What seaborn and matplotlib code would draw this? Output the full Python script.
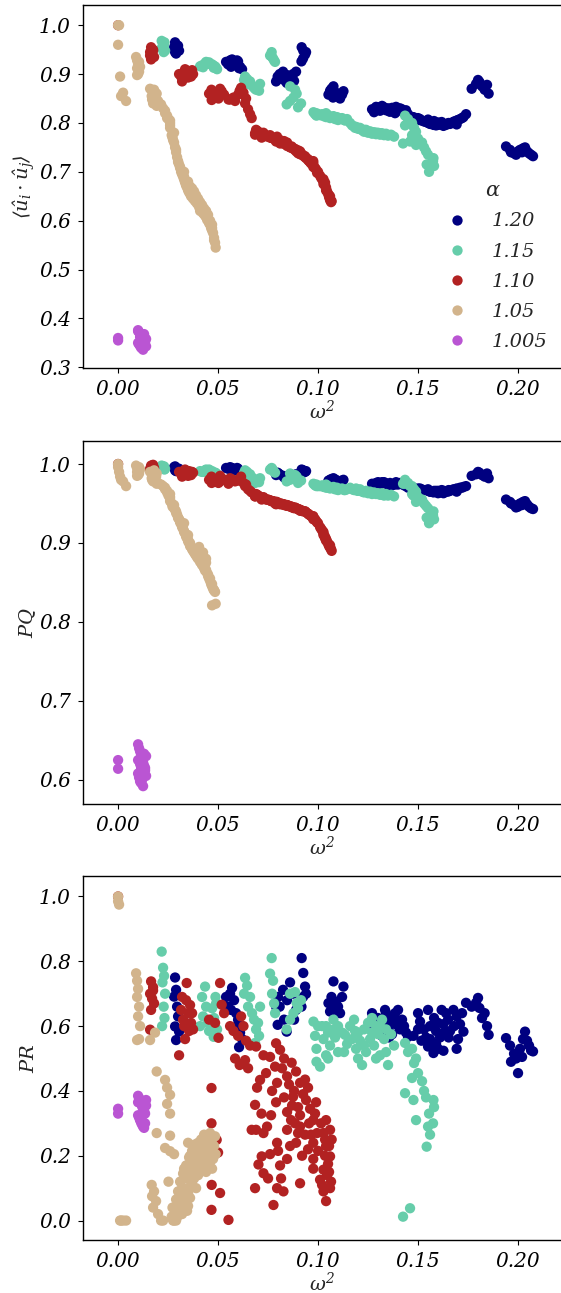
import matplotlib
matplotlib.use("Agg")
import matplotlib.pyplot as plt
import pandas as pd
import seaborn as sns

# ---------------------------------------------------------------------------
# Data: for every alpha, omega^2 of each sample and the three diagnostics
# (mean alignment <u_i . u_j>, PQ and PR) measured on that sample.
# ---------------------------------------------------------------------------
alpha_labels = ["1.20", "1.15", "1.10", "1.05", "1.005"]
alpha_colors = ["#000080", "#66cdaa", "#b22222", "#d2b48c", "#ba55d3"]

# alpha = 1.20
omega2_120 = [
    0.0285, 0.0290, 0.0280, 0.0295, 0.0300, 0.0285, 0.0305, 0.0290,
    0.0540, 0.0550, 0.0560, 0.0570, 0.0580, 0.0590, 0.0600, 0.0610, 0.0620, 0.0605, 0.0565, 0.0595,
    0.0800, 0.0790, 0.0798, 0.0808, 0.0825, 0.0845, 0.0830, 0.0843, 0.0860, 0.0875, 0.0890, 0.0880,
    0.0918, 0.0926, 0.0935, 0.0925, 0.0917, 0.0940,
    0.1077, 0.1127, 0.1067, 0.1052, 0.1090, 0.1100, 0.1110, 0.1075, 0.1060, 0.1120,
    0.1270, 0.1280, 0.1300, 0.1310, 0.1330, 0.1340, 0.1350, 0.1360, 0.1370, 0.1380,
    0.1390, 0.1400, 0.1410, 0.1420, 0.1430, 0.1440, 0.1450, 0.1320, 0.1290, 0.1385,
    0.1335, 0.1355, 0.1405, 0.1300,
    0.1477, 0.1510, 0.1517, 0.1540, 0.1550, 0.1560, 0.1577, 0.1590, 0.1590, 0.1610, 0.1618, 0.1627,
    0.1627, 0.1640, 0.1653, 0.1660, 0.1677, 0.1693, 0.1693, 0.1710, 0.1727, 0.1740, 0.1500, 0.1580,
    0.1500, 0.1530, 0.1560, 0.1600, 0.1630, 0.1650, 0.1680, 0.1700, 0.1720, 0.1550, 0.1600,
    0.1768, 0.1790, 0.1800, 0.1807, 0.1820, 0.1833, 0.1853, 0.1845,
    0.1940, 0.1960, 0.1965, 0.1980, 0.2000, 0.2010, 0.2025, 0.2035, 0.2045, 0.2055, 0.2065, 0.2075, 0.1990, 0.2020,
]
dot_120 = [
    0.965, 0.960, 0.955, 0.950, 0.958, 0.945, 0.948, 0.942,
    0.925, 0.920, 0.928, 0.930, 0.922, 0.918, 0.926, 0.915, 0.910, 0.912, 0.915, 0.928,
    0.890, 0.885, 0.895, 0.900, 0.905, 0.898, 0.888, 0.882, 0.893, 0.900, 0.905, 0.886,
    0.955, 0.948, 0.940, 0.932, 0.926, 0.945,
    0.875, 0.865, 0.870, 0.858, 0.862, 0.855, 0.850, 0.852, 0.866, 0.858,
    0.828, 0.822, 0.830, 0.825, 0.832, 0.826, 0.830, 0.823, 0.831, 0.827,
    0.833, 0.825, 0.830, 0.828, 0.822, 0.826, 0.818, 0.835, 0.833, 0.820,
    0.829, 0.824, 0.827, 0.832,
    0.812, 0.808, 0.805, 0.802, 0.800, 0.798, 0.796, 0.800, 0.795, 0.797, 0.802, 0.798,
    0.794, 0.796, 0.800, 0.798, 0.802, 0.805, 0.797, 0.808, 0.812, 0.818, 0.810, 0.804,
    0.806, 0.803, 0.799, 0.801, 0.797, 0.799, 0.803, 0.806, 0.810, 0.807, 0.796,
    0.870, 0.880, 0.888, 0.884, 0.875, 0.868, 0.860, 0.878,
    0.752, 0.745, 0.740, 0.738, 0.742, 0.745, 0.748, 0.750, 0.742, 0.738, 0.735, 0.732, 0.735, 0.740,
]
pq_120 = [
    0.997, 0.995, 0.996, 0.994, 0.993, 0.992, 0.994, 0.991,
    0.995, 0.994, 0.996, 0.995, 0.993, 0.992, 0.994, 0.991, 0.990, 0.992, 0.993, 0.995,
    0.988, 0.986, 0.989, 0.987, 0.985, 0.984, 0.983, 0.982, 0.986, 0.985, 0.987, 0.984,
    0.993, 0.992, 0.990, 0.989, 0.988, 0.991,
    0.982, 0.980, 0.981, 0.979, 0.980, 0.978, 0.977, 0.978, 0.980, 0.979,
    0.975, 0.973, 0.976, 0.974, 0.977, 0.975, 0.974, 0.976, 0.973, 0.975,
    0.977, 0.974, 0.976, 0.975, 0.973, 0.972, 0.970, 0.977, 0.976, 0.974,
    0.976, 0.973, 0.975, 0.977,
    0.970, 0.969, 0.968, 0.967, 0.966, 0.965, 0.964, 0.966, 0.965, 0.964, 0.967, 0.966,
    0.963, 0.965, 0.967, 0.966, 0.968, 0.969, 0.965, 0.970, 0.971, 0.972, 0.968, 0.966,
    0.969, 0.967, 0.965, 0.966, 0.964, 0.965, 0.967, 0.968, 0.970, 0.968, 0.963,
    0.985, 0.987, 0.990, 0.989, 0.986, 0.984, 0.982, 0.988,
    0.955, 0.952, 0.950, 0.948, 0.946, 0.950, 0.952, 0.953, 0.949, 0.946, 0.944, 0.943, 0.945, 0.948,
]
pr_120 = [
    0.750, 0.712, 0.691, 0.660, 0.630, 0.599, 0.583, 0.557,
    0.690, 0.660, 0.700, 0.718, 0.680, 0.640, 0.620, 0.580, 0.560, 0.535, 0.650, 0.600,
    0.690, 0.660, 0.604, 0.660, 0.712, 0.680, 0.620, 0.583, 0.735, 0.700, 0.650, 0.620,
    0.810, 0.764, 0.722, 0.690, 0.660, 0.700,
    0.738, 0.722, 0.690, 0.671, 0.675, 0.660, 0.640, 0.650, 0.645, 0.690,
    0.640, 0.600, 0.625, 0.585, 0.610, 0.640, 0.595, 0.620, 0.575, 0.630,
    0.605, 0.650, 0.590, 0.620, 0.600, 0.580, 0.567, 0.570, 0.615, 0.640,
    0.650, 0.565, 0.610, 0.590,
    0.570, 0.614, 0.555, 0.565, 0.537, 0.600, 0.517, 0.585, 0.545, 0.565, 0.650, 0.606,
    0.524, 0.640, 0.565, 0.585, 0.650, 0.630, 0.530, 0.606, 0.583, 0.672, 0.590, 0.625,
    0.640, 0.590, 0.560, 0.610, 0.580, 0.620, 0.600, 0.560, 0.640, 0.650, 0.530,
    0.660, 0.672, 0.687, 0.656, 0.625, 0.640, 0.573, 0.600,
    0.563, 0.540, 0.490, 0.515, 0.455, 0.530, 0.560, 0.583, 0.555, 0.540, 0.525, 0.522, 0.500, 0.505,
]

# alpha = 1.15
omega2_115 = [
    0.0218, 0.0225, 0.0230, 0.0222, 0.0235, 0.0228, 0.0232, 0.0220,
    0.0435, 0.0420, 0.0487, 0.0440, 0.0470, 0.0490, 0.0425, 0.0450, 0.0480, 0.0410, 0.0455, 0.0478, 0.0495,
    0.0635, 0.0645, 0.0630, 0.0660, 0.0650, 0.0670, 0.0680, 0.0690, 0.0705, 0.0685, 0.0710, 0.0700,
    0.0768, 0.0760, 0.0775, 0.0780, 0.0770, 0.0785,
    0.0860, 0.0885, 0.0893, 0.0877, 0.0860, 0.0843, 0.0900, 0.0915,
    0.0977, 0.0985, 0.0992, 0.0992, 0.1010, 0.1020, 0.1027, 0.1040, 0.1050,
    0.1060, 0.1077, 0.1085, 0.1095, 0.1100, 0.1120, 0.1135, 0.1145, 0.1040,
    0.1000, 0.1050, 0.1100, 0.1130, 0.1080,
    0.1160, 0.1170, 0.1185, 0.1190, 0.1200, 0.1210, 0.1220, 0.1230, 0.1240, 0.1250, 0.1260,
    0.1270, 0.1280, 0.1290, 0.1300, 0.1310, 0.1320, 0.1330, 0.1340, 0.1350, 0.1365, 0.1380,
    0.1180, 0.1230, 0.1270, 0.1310, 0.1340, 0.1290, 0.1200,
    0.1425, 0.1460, 0.1435, 0.1450, 0.1470, 0.1480, 0.1490, 0.1470, 0.1500, 0.1520, 0.1435,
    0.1477, 0.1530, 0.1540, 0.1577, 0.1490, 0.1550, 0.1575, 0.1543, 0.1560, 0.1555, 0.1580,
]
dot_115 = [
    0.968, 0.962, 0.958, 0.952, 0.948, 0.945, 0.965, 0.955,
    0.922, 0.918, 0.915, 0.925, 0.920, 0.912, 0.914, 0.921, 0.917, 0.916, 0.924, 0.913, 0.910,
    0.895, 0.890, 0.888, 0.885, 0.880, 0.876, 0.872, 0.868, 0.866, 0.870, 0.880, 0.875,
    0.945, 0.938, 0.932, 0.928, 0.935, 0.925,
    0.875, 0.868, 0.860, 0.852, 0.845, 0.838, 0.832, 0.840,
    0.822, 0.818, 0.815, 0.820, 0.816, 0.818, 0.814, 0.812, 0.816,
    0.810, 0.814, 0.808, 0.812, 0.806, 0.810, 0.805, 0.808, 0.820,
    0.818, 0.814, 0.810, 0.806, 0.812,
    0.800, 0.795, 0.790, 0.792, 0.788, 0.790, 0.785, 0.782, 0.786, 0.780, 0.783,
    0.778, 0.781, 0.777, 0.780, 0.776, 0.779, 0.775, 0.778, 0.774, 0.776, 0.772,
    0.793, 0.786, 0.781, 0.779, 0.776, 0.780, 0.790,
    0.758, 0.762, 0.815, 0.808, 0.800, 0.790, 0.782, 0.775, 0.768, 0.760, 0.795,
    0.770, 0.750, 0.742, 0.728, 0.755, 0.735, 0.722, 0.715, 0.708, 0.700, 0.712,
]
pq_115 = [
    0.998, 0.996, 0.997, 0.995, 0.994, 0.996, 0.993, 0.997,
    0.992, 0.990, 0.989, 0.993, 0.991, 0.988, 0.990, 0.992, 0.989, 0.991, 0.993, 0.988, 0.987,
    0.992, 0.990, 0.989, 0.987, 0.985, 0.983, 0.981, 0.979, 0.977, 0.976, 0.982, 0.980,
    0.995, 0.993, 0.992, 0.990, 0.994, 0.989,
    0.988, 0.986, 0.984, 0.982, 0.980, 0.978, 0.976, 0.979,
    0.975, 0.973, 0.972, 0.974, 0.972, 0.973, 0.971, 0.970, 0.972,
    0.969, 0.971, 0.968, 0.970, 0.967, 0.969, 0.967, 0.968, 0.974,
    0.972, 0.970, 0.968, 0.967, 0.969,
    0.970, 0.968, 0.967, 0.969, 0.966, 0.968, 0.965, 0.964, 0.966, 0.963, 0.965,
    0.962, 0.964, 0.962, 0.963, 0.961, 0.963, 0.960, 0.962, 0.960, 0.961, 0.959,
    0.967, 0.965, 0.963, 0.962, 0.961, 0.963, 0.966,
    0.975, 0.972, 0.980, 0.976, 0.972, 0.968, 0.965, 0.962, 0.958, 0.955, 0.975,
    0.960, 0.950, 0.947, 0.940, 0.952, 0.944, 0.935, 0.932, 0.928, 0.925, 0.930,
]
pr_115 = [
    0.830, 0.780, 0.755, 0.735, 0.700, 0.660, 0.625, 0.600,
    0.722, 0.690, 0.690, 0.660, 0.655, 0.670, 0.630, 0.610, 0.625, 0.600, 0.585, 0.567, 0.590,
    0.749, 0.725, 0.700, 0.690, 0.660, 0.640, 0.620, 0.590, 0.570, 0.548, 0.660, 0.610,
    0.810, 0.762, 0.740, 0.670, 0.700, 0.640,
    0.700, 0.705, 0.671, 0.640, 0.620, 0.590, 0.655, 0.680,
    0.614, 0.570, 0.530, 0.490, 0.475, 0.600, 0.560, 0.510, 0.580,
    0.540, 0.620, 0.565, 0.595, 0.520, 0.580, 0.573, 0.545, 0.600,
    0.600, 0.500, 0.600, 0.520, 0.590,
    0.600, 0.560, 0.585, 0.530, 0.500, 0.555, 0.480, 0.590, 0.520, 0.610, 0.560,
    0.625, 0.540, 0.600, 0.575, 0.510, 0.620, 0.560, 0.590, 0.480, 0.575, 0.540,
    0.620, 0.540, 0.580, 0.600, 0.520, 0.500, 0.580,
    0.012, 0.038, 0.548, 0.520, 0.530, 0.486, 0.500, 0.440, 0.455, 0.430, 0.393,
    0.372, 0.400, 0.380, 0.372, 0.310, 0.290, 0.300, 0.228, 0.265, 0.330, 0.350,
]

# alpha = 1.10
omega2_110 = [
    0.0000,
    0.0165, 0.0175, 0.0160, 0.0170, 0.0180, 0.0165, 0.0175, 0.0160,
    0.0305, 0.0315, 0.0325, 0.0330, 0.0340, 0.0343, 0.0350, 0.0355, 0.0360, 0.0365, 0.0370, 0.0375, 0.0320, 0.0335,
    0.0510, 0.0518, 0.0455, 0.0485, 0.0502, 0.0467, 0.0467, 0.0493, 0.0500, 0.0468, 0.0510, 0.0467, 0.0552, 0.0530,
    0.0560, 0.0577, 0.0600, 0.0615, 0.0627, 0.0640, 0.0585, 0.0608, 0.0635, 0.0650, 0.0668, 0.0660,
    0.0690, 0.0727, 0.0710, 0.0695, 0.0685, 0.0717, 0.0690, 0.0727, 0.0718, 0.0702, 0.0727, 0.0685,
    0.0750, 0.0777, 0.0795, 0.0790, 0.0760, 0.0785, 0.0795, 0.0790, 0.0765, 0.0795,
    0.0810, 0.0868, 0.0845, 0.0910, 0.0935, 0.0875, 0.0940, 0.0990, 0.0900, 0.0845, 0.0910,
    0.0845, 0.0910, 0.0976, 0.1040, 0.1027, 0.1060, 0.0976, 0.1040, 0.1060, 0.0976, 0.1027,
    0.0976, 0.1010, 0.0910, 0.0827, 0.1027, 0.0845, 0.0810, 0.0880, 0.0950, 0.0830, 0.0960,
    0.1000, 0.1050, 0.0995, 0.0865, 0.0935, 0.0890, 0.0800, 0.1068, 0.1065, 0.1045,
    0.0740, 0.0770, 0.0745, 0.0760, 0.0820, 0.0855, 0.0890, 0.0925, 0.0955,
    0.0885, 0.0830, 0.0900, 0.0950, 0.0985, 0.1015, 0.1035, 0.1055, 0.1035,
    0.1055, 0.1020, 0.1060, 0.1040, 0.0860, 0.0920, 0.0815, 0.0870, 0.0965,
]
dot_110 = [
    1.000,
    0.955, 0.950, 0.945, 0.940, 0.935, 0.930, 0.948, 0.938,
    0.900, 0.895, 0.890, 0.905, 0.908, 0.898, 0.893, 0.905, 0.900, 0.895, 0.908, 0.900, 0.885, 0.910,
    0.870, 0.865, 0.860, 0.855, 0.850, 0.868, 0.858, 0.862, 0.852, 0.847, 0.856, 0.864, 0.848, 0.858,
    0.848, 0.852, 0.858, 0.872, 0.862, 0.850, 0.845, 0.866, 0.840, 0.828, 0.810, 0.818,
    0.780, 0.774, 0.778, 0.784, 0.776, 0.772, 0.786, 0.780, 0.770, 0.782, 0.776, 0.779,
    0.772, 0.768, 0.764, 0.770, 0.775, 0.766, 0.772, 0.762, 0.770, 0.768,
    0.765, 0.752, 0.758, 0.740, 0.730, 0.748, 0.728, 0.705, 0.744, 0.755, 0.736,
    0.760, 0.742, 0.714, 0.668, 0.680, 0.650, 0.718, 0.662, 0.645, 0.710, 0.675,
    0.722, 0.692, 0.738, 0.762, 0.685, 0.753, 0.758, 0.746, 0.724, 0.763, 0.720,
    0.700, 0.655, 0.698, 0.750, 0.732, 0.745, 0.766, 0.640, 0.638, 0.660,
    0.773, 0.769, 0.774, 0.770, 0.760, 0.752, 0.742, 0.733, 0.722,
    0.747, 0.757, 0.738, 0.726, 0.708, 0.688, 0.672, 0.652, 0.678,
    0.648, 0.685, 0.642, 0.665, 0.750, 0.736, 0.762, 0.749, 0.717,
]
pq_110 = [
    1.000,
    0.998, 0.996, 0.994, 0.997, 0.995, 0.993, 0.999, 0.992,
    0.990, 0.988, 0.986, 0.992, 0.990, 0.987, 0.985, 0.991, 0.988, 0.986, 0.990, 0.989, 0.984, 0.993,
    0.985, 0.982, 0.980, 0.978, 0.976, 0.984, 0.981, 0.979, 0.977, 0.976, 0.978, 0.983, 0.975, 0.980,
    0.982, 0.980, 0.979, 0.984, 0.976, 0.974, 0.978, 0.981, 0.972, 0.968, 0.964, 0.966,
    0.960, 0.957, 0.958, 0.961, 0.959, 0.956, 0.962, 0.958, 0.955, 0.960, 0.957, 0.959,
    0.955, 0.953, 0.951, 0.952, 0.954, 0.950, 0.952, 0.949, 0.953, 0.951,
    0.950, 0.946, 0.948, 0.942, 0.940, 0.945, 0.939, 0.928, 0.943, 0.947, 0.941,
    0.948, 0.942, 0.932, 0.905, 0.912, 0.897, 0.933, 0.903, 0.895, 0.930, 0.910,
    0.934, 0.920, 0.941, 0.949, 0.914, 0.947, 0.949, 0.944, 0.937, 0.949, 0.935,
    0.925, 0.899, 0.926, 0.946, 0.940, 0.944, 0.950, 0.890, 0.892, 0.902,
    0.955, 0.953, 0.955, 0.954, 0.949, 0.947, 0.944, 0.940, 0.936,
    0.945, 0.948, 0.943, 0.937, 0.930, 0.918, 0.908, 0.898, 0.906,
    0.896, 0.916, 0.894, 0.904, 0.946, 0.941, 0.950, 0.945, 0.934,
]
pr_110 = [
    1.000,
    0.738, 0.720, 0.700, 0.685, 0.670, 0.650, 0.710, 0.589,
    0.510, 0.650, 0.620, 0.600, 0.680, 0.733, 0.640, 0.585, 0.665, 0.610, 0.640, 0.590, 0.690, 0.560,
    0.733, 0.666, 0.620, 0.610, 0.564, 0.409, 0.300, 0.249, 0.210, 0.110, 0.085, 0.033, 0.002, 0.640,
    0.600, 0.585, 0.570, 0.630, 0.600, 0.555, 0.500, 0.480, 0.495, 0.470, 0.280, 0.540,
    0.537, 0.510, 0.434, 0.410, 0.357, 0.330, 0.280, 0.270, 0.198, 0.173, 0.146, 0.100,
    0.130, 0.048, 0.100, 0.547, 0.505, 0.475, 0.425, 0.365, 0.325, 0.240,
    0.527, 0.487, 0.445, 0.425, 0.435, 0.382, 0.372, 0.365, 0.350, 0.335, 0.325,
    0.280, 0.290, 0.310, 0.310, 0.270, 0.280, 0.240, 0.230, 0.198, 0.190, 0.157,
    0.160, 0.126, 0.115, 0.090, 0.090, 0.190, 0.170, 0.400, 0.410, 0.500, 0.345,
    0.215, 0.175, 0.270, 0.310, 0.265, 0.240, 0.215, 0.250, 0.120, 0.140,
    0.455, 0.400, 0.290, 0.205, 0.470, 0.420, 0.460, 0.390, 0.300,
    0.300, 0.380, 0.270, 0.220, 0.330, 0.300, 0.250, 0.230, 0.200,
    0.150, 0.110, 0.100, 0.060, 0.230, 0.200, 0.130, 0.355, 0.265,
]

# alpha = 1.05
omega2_105 = [
    0.0000, 0.0000, 0.0005, 0.0010, 0.0025, 0.0040, 0.0015,
    0.0090, 0.0095, 0.0100, 0.0095, 0.0105, 0.0100, 0.0110, 0.0095, 0.0105,
    0.0160, 0.0185, 0.0168, 0.0170, 0.0175, 0.0190, 0.0200, 0.0215, 0.0193, 0.0193, 0.0180, 0.0225,
    0.0235, 0.0245, 0.0260, 0.0245, 0.0260, 0.0260, 0.0235, 0.0260, 0.0280, 0.0252,
    0.0268, 0.0275, 0.0272, 0.0285, 0.0290, 0.0295, 0.0300, 0.0305, 0.0310, 0.0315, 0.0320, 0.0325,
    0.0330, 0.0335, 0.0340, 0.0345, 0.0350, 0.0355, 0.0360, 0.0365, 0.0370, 0.0375, 0.0380, 0.0385,
    0.0390, 0.0395, 0.0400, 0.0405, 0.0410, 0.0415, 0.0420, 0.0425, 0.0430, 0.0435, 0.0440, 0.0445,
    0.0450, 0.0455, 0.0460, 0.0465, 0.0470, 0.0475, 0.0480, 0.0485, 0.0488, 0.0470,
    0.0330, 0.0350, 0.0350, 0.0290, 0.0280,
    0.0300, 0.0310, 0.0320, 0.0340, 0.0345, 0.0360, 0.0370, 0.0380, 0.0390, 0.0400, 0.0410,
    0.0420, 0.0430, 0.0440, 0.0450, 0.0460, 0.0470, 0.0480, 0.0440, 0.0360, 0.0330, 0.0410,
]
dot_105 = [
    1.000, 0.960, 1.000, 0.895, 0.862, 0.845, 0.855,
    0.935, 0.928, 0.920, 0.912, 0.905, 0.900, 0.915, 0.898, 0.925,
    0.870, 0.862, 0.855, 0.848, 0.840, 0.850, 0.845, 0.838, 0.860, 0.835, 0.868, 0.830,
    0.825, 0.815, 0.805, 0.810, 0.800, 0.795, 0.820, 0.790, 0.780, 0.808,
    0.775, 0.765, 0.770, 0.750, 0.740, 0.730, 0.722, 0.715, 0.708, 0.700, 0.695, 0.690,
    0.684, 0.678, 0.672, 0.668, 0.662, 0.658, 0.655, 0.650, 0.666, 0.645, 0.660, 0.640,
    0.652, 0.635, 0.645, 0.628, 0.638, 0.622, 0.632, 0.615, 0.625, 0.610, 0.618, 0.602,
    0.612, 0.595, 0.600, 0.585, 0.592, 0.575, 0.565, 0.555, 0.545, 0.580,
    0.700, 0.680, 0.672, 0.745, 0.760,
    0.720, 0.710, 0.700, 0.675, 0.670, 0.660, 0.650, 0.648, 0.640, 0.635, 0.630,
    0.625, 0.615, 0.608, 0.600, 0.592, 0.585, 0.560, 0.620, 0.670, 0.690, 0.620,
]
pq_105 = [
    1.000, 0.996, 0.990, 0.984, 0.978, 0.972, 0.980,
    0.998, 0.995, 0.992, 0.990, 0.988, 0.986, 0.993, 0.985, 0.996,
    0.990, 0.986, 0.982, 0.980, 0.978, 0.984, 0.976, 0.974, 0.988, 0.975, 0.992, 0.972,
    0.970, 0.966, 0.962, 0.964, 0.958, 0.955, 0.968, 0.953, 0.948, 0.960,
    0.950, 0.948, 0.946, 0.942, 0.940, 0.936, 0.932, 0.930, 0.926, 0.924, 0.920, 0.918,
    0.915, 0.912, 0.908, 0.906, 0.902, 0.900, 0.898, 0.895, 0.892, 0.890, 0.888, 0.886,
    0.884, 0.882, 0.880, 0.895, 0.878, 0.875, 0.872, 0.888, 0.868, 0.865, 0.880, 0.862,
    0.858, 0.855, 0.852, 0.848, 0.845, 0.842, 0.840, 0.838, 0.823, 0.821,
    0.925, 0.910, 0.904, 0.938, 0.944,
    0.932, 0.928, 0.922, 0.910, 0.907, 0.900, 0.893, 0.890, 0.886, 0.882, 0.876,
    0.874, 0.870, 0.866, 0.860, 0.855, 0.848, 0.840, 0.875, 0.896, 0.914, 0.890,
]
pr_105 = [
    1.000, 0.985, 0.975, 0.000, 0.000, 0.000, 0.000,
    0.763, 0.740, 0.715, 0.690, 0.660, 0.630, 0.600, 0.557, 0.560,
    0.557, 0.580, 0.110, 0.075, 0.040, 0.060, 0.020, 0.000, 0.460, 0.270, 0.090, 0.000,
    0.434, 0.410, 0.388, 0.360, 0.330, 0.262, 0.224, 0.214, 0.205, 0.120,
    0.012, 0.000, 0.040, 0.030, 0.065, 0.010, 0.090, 0.045, 0.120, 0.070, 0.020, 0.145,
    0.100, 0.055, 0.170, 0.130, 0.085, 0.195, 0.150, 0.110, 0.215, 0.175, 0.130, 0.235,
    0.195, 0.150, 0.240, 0.210, 0.170, 0.250, 0.220, 0.185, 0.265, 0.230, 0.200, 0.255,
    0.170, 0.235, 0.270, 0.215, 0.250, 0.190, 0.230, 0.260, 0.205, 0.160,
    0.040, 0.045, 0.240, 0.000, 0.000,
    0.030, 0.060, 0.100, 0.080, 0.030, 0.070, 0.120, 0.180, 0.100, 0.140, 0.200,
    0.160, 0.200, 0.240, 0.210, 0.180, 0.220, 0.200, 0.150, 0.200, 0.160, 0.240,
]

# alpha = 1.005
omega2_1005 = [
    0.0000, 0.0000,
    0.0100, 0.0105, 0.0110, 0.0115, 0.0120, 0.0125, 0.0130, 0.0135,
    0.0100, 0.0105, 0.0110, 0.0115, 0.0120, 0.0125, 0.0130, 0.0135,
    0.0110, 0.0120, 0.0130, 0.0140, 0.0100, 0.0115, 0.0125, 0.0140,
]
dot_1005 = [
    0.360, 0.355,
    0.376, 0.372, 0.370, 0.366, 0.364, 0.360, 0.356, 0.352,
    0.350, 0.347, 0.344, 0.340, 0.345, 0.349, 0.353, 0.357,
    0.362, 0.365, 0.368, 0.358, 0.374, 0.348, 0.336, 0.343,
]
pq_1005 = [
    0.625, 0.614,
    0.645, 0.640, 0.636, 0.632, 0.628, 0.622, 0.618, 0.612,
    0.608, 0.603, 0.598, 0.596, 0.600, 0.606, 0.610, 0.615,
    0.620, 0.627, 0.633, 0.630, 0.625, 0.615, 0.592, 0.605,
]
pr_1005 = [
    0.345, 0.330,
    0.385, 0.378, 0.370, 0.362, 0.352, 0.345, 0.338, 0.330,
    0.325, 0.318, 0.310, 0.302, 0.296, 0.290, 0.286, 0.300,
    0.312, 0.322, 0.335, 0.355, 0.365, 0.308, 0.295, 0.372,
]

x_ticks = [0.00, 0.05, 0.10, 0.15, 0.20]

# ---------------------------------------------------------------------------
# Long-form table, drawn in the order 1.20 -> 1.005 so later groups sit on top
# ---------------------------------------------------------------------------
series = [
    (alpha_labels[0], omega2_120, dot_120, pq_120, pr_120),
    (alpha_labels[1], omega2_115, dot_115, pq_115, pr_115),
    (alpha_labels[2], omega2_110, dot_110, pq_110, pr_110),
    (alpha_labels[3], omega2_105, dot_105, pq_105, pr_105),
    (alpha_labels[4], omega2_1005, dot_1005, pq_1005, pr_1005),
]
frames = []
for label, w2, d, pq, pr in series:
    frames.append(pd.DataFrame({"omega2": w2, "dot": d, "PQ": pq, "PR": pr, "alpha": label}))
df = pd.concat(frames, ignore_index=True)

palette = dict(zip(alpha_labels, alpha_colors))

sns.set_style("ticks")
plt.rcParams["font.family"] = ["DejaVu Serif"]
plt.rcParams["font.style"] = "italic"
plt.rcParams["mathtext.fontset"] = "dejavuserif"
plt.rcParams["xtick.labelsize"] = 14.5
plt.rcParams["ytick.labelsize"] = 14.5
plt.rcParams["xtick.major.pad"] = 5
plt.rcParams["ytick.major.pad"] = 5
plt.rcParams["axes.labelsize"] = 14
plt.rcParams["axes.edgecolor"] = "black"
plt.rcParams["xtick.color"] = "black"
plt.rcParams["ytick.color"] = "black"

fig = plt.figure(figsize=(5.61, 12.93), dpi=100)

panels = [
    ("dot", r"$\langle \hat{u}_i \cdot \hat{u}_j \rangle$", (0.298, 1.042),
     [0.3, 0.4, 0.5, 0.6, 0.7, 0.8, 0.9, 1.0], 0.71516),
    ("PQ", r"$PQ$", (0.569, 1.0295), [0.6, 0.7, 0.8, 0.9, 1.0], 0.37795),
    ("PR", r"$PR$", (-0.06, 1.062), [0.0, 0.2, 0.4, 0.6, 0.8, 1.0], 0.04099),
]

for i, (col, ylabel, ylim, yticks, bottom) in enumerate(panels):
    ax = fig.add_axes([0.1474, bottom, 0.8555, 0.2812])
    sns.scatterplot(
        data=df, x="omega2", y=col, hue="alpha", hue_order=alpha_labels,
        palette=palette, s=55, linewidth=0, alpha=1.0, ax=ax, legend=(i == 0),
    )
    ax.set_xlim(-0.0177, 0.2223)
    ax.set_ylim(*ylim)
    ax.set_xticks(x_ticks)
    ax.set_yticks(yticks)
    ax.set_xlabel(r"$\omega^2$", labelpad=0.5)
    ax.set_ylabel(ylabel, labelpad=1)
    for sp in ax.spines.values():
        sp.set_linewidth(1.0)
    if i == 0:
        sns.move_legend(
            ax, "lower right", bbox_to_anchor=(0.985, 0.027), borderaxespad=0,
            frameon=False, title=r"$\alpha$", title_fontsize=15, labelspacing=0.62,
            prop={"family": "DejaVu Serif", "style": "italic", "size": 14},
        )

fig.savefig("out.png", dpi=100)
